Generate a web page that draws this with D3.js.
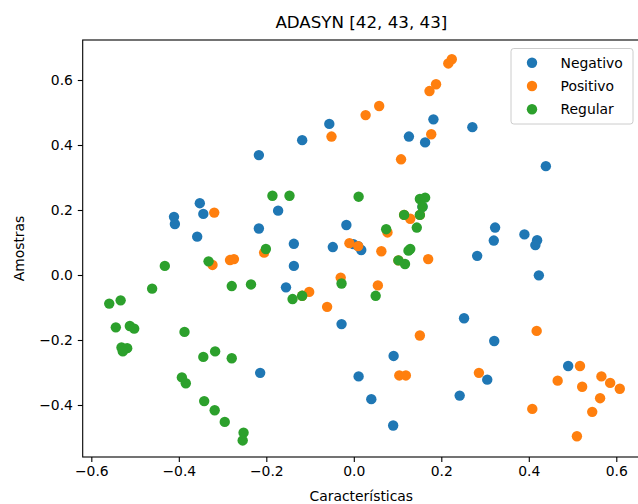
<!DOCTYPE html>
<html>
<head>
<meta charset="utf-8">
<script src="https://cdn.jsdelivr.net/npm/d3@7"></script>
<style>
  body { margin: 0; background: #fff; }
  svg { display: block; }
  text { font-family: "DejaVu Sans", sans-serif; fill: #000; }
</style>
</head>
<body>
<svg id="chart" width="638" height="504"></svg>
<script>
// ADASYN-resampled samples projected onto two components
const seriesNames = ["Negativo", "Positivo", "Regular"];
const seriesColors = ["#1f77b4", "#ff7f0e", "#2ca02c"];

const negativoX = [-0.217, -0.173, -0.352, -0.344, -0.411, -0.409, -0.358, -0.217, -0.214, 0.182,
  0.271, -0.056, -0.118, 0.126, 0.163, -0.017, -0.137, -0.048, -0.001, 0.017,
  -0.137, -0.155, 0.439, 0.323, 0.320, 0.390, 0.419, 0.415, 0.282, 0.423,
  -0.028, 0.252, 0.091, 0.011, 0.242, 0.040, 0.090, 0.321, 0.305, 0.490,
  0.010, 0.157];
const negativoY = [0.369, 0.198, 0.221, 0.188, 0.179, 0.157, 0.118, 0.143, -0.301, 0.479,
  0.455, 0.465, 0.415, 0.426, 0.408, 0.154, 0.096, 0.086, 0.095, 0.077,
  0.028, -0.038, 0.335, 0.146, 0.106, 0.125, 0.107, 0.092, 0.059, -0.001,
  -0.151, -0.133, -0.249, -0.312, -0.371, -0.382, -0.463, -0.203, -0.322, -0.280,
  0.089, 0.210];

const positivoX = [0.224, 0.216, 0.188, 0.173, 0.058, 0.027, -0.051, 0.177, 0.108, -0.319,
  -0.205, -0.283, -0.274, -0.323, 0.129, 0.077, -0.010, 0.010, 0.063, 0.170,
  -0.030, -0.102, 0.055, -0.061, 0.151, 0.104, 0.119, 0.418, 0.286, 0.517,
  0.466, 0.566, 0.586, 0.522, 0.608, 0.563, 0.408, 0.545, 0.510,
  0.115, 0.151, 0.102, -0.118];
const positivoY = [0.664, 0.651, 0.587, 0.566, 0.520, 0.492, 0.426, 0.433, 0.356, 0.192,
  0.069, 0.046, 0.049, 0.031, 0.173, 0.131, 0.098, 0.089, 0.073, 0.049,
  -0.008, -0.052, -0.032, -0.098, -0.186, -0.309, -0.309, -0.172, -0.301, -0.280,
  -0.325, -0.312, -0.332, -0.344, -0.350, -0.379, -0.412, -0.421, -0.496,
  0.185, 0.185, 0.045, -0.064];

const regularX = [-0.186, -0.147, 0.011, -0.201, -0.332, -0.432, -0.279, -0.235, -0.461, -0.559,
  -0.533, -0.544, -0.512, -0.502, -0.387, -0.531, -0.518, -0.528, -0.344, -0.317,
  -0.279, -0.393, -0.384, -0.342, -0.318, -0.295, -0.252, -0.254, 0.151, 0.163,
  0.157, 0.151, 0.115, 0.144, 0.074, 0.129, 0.125, 0.102, 0.117, -0.028,
  -0.118, -0.140, 0.050];
const regularY = [0.244, 0.244, 0.241, 0.080, 0.042, 0.028, -0.034, -0.029, -0.042, -0.088,
  -0.078, -0.161, -0.157, -0.165, -0.175, -0.223, -0.225, -0.235, -0.252, -0.235,
  -0.256, -0.315, -0.333, -0.388, -0.416, -0.452, -0.485, -0.509, 0.234, 0.238,
  0.210, 0.185, 0.185, 0.146, 0.141, 0.080, 0.075, 0.045, 0.034, -0.026,
  -0.064, -0.074, -0.064];

const xTicks = [-0.6, -0.4, -0.2, 0.0, 0.2, 0.4, 0.6];
const yTicks = [-0.4, -0.2, 0.0, 0.2, 0.4, 0.6];

const titleText = "ADASYN [42, 43, 43]";
const xLabel = "Características";
const yLabel = "Amostras";

const series = [
  { name: seriesNames[0], color: seriesColors[0], xs: negativoX, ys: negativoY },
  { name: seriesNames[1], color: seriesColors[1], xs: positivoX, ys: positivoY },
  { name: seriesNames[2], color: seriesColors[2], xs: regularX, ys: regularY }
];

const frame = { left: 82.7, right: 640, top: 40, bottom: 457 };
const fontSize = 13.9;
const markerR = 5.2;

const x = d3.scaleLinear().domain([-0.6197, 0.6542]).range([frame.left, frame.right]);
const y = d3.scaleLinear().domain([-0.56, 0.7231]).range([frame.bottom, frame.top]);

const svg = d3.select("#chart");
svg.append("rect").attr("width", 638).attr("height", 504).attr("fill", "#fff");

const fmt = d3.format(".1f");

// points, drawn series by series
const plot = svg.append("g");
series.forEach(s => {
  plot.append("g").selectAll("circle")
    .data(d3.range(s.xs.length))
    .join("circle")
    .attr("cx", i => x(s.xs[i]))
    .attr("cy", i => y(s.ys[i]))
    .attr("r", markerR)
    .attr("fill", s.color);
});

// axes
const xAxis = svg.append("g")
  .attr("transform", `translate(0,${frame.bottom})`)
  .call(d3.axisBottom(x).tickValues(xTicks).tickFormat(fmt).tickSize(4.9).tickPadding(4.4).tickSizeOuter(0));
const yAxis = svg.append("g")
  .attr("transform", `translate(${frame.left},0)`)
  .call(d3.axisLeft(y).tickValues(yTicks).tickFormat(fmt).tickSize(4.9).tickPadding(4.9).tickSizeOuter(0));

[xAxis, yAxis].forEach(g => {
  g.select(".domain").remove();
  g.selectAll(".tick line").attr("stroke", "#000").attr("stroke-width", 1.1);
  g.selectAll(".tick text")
    .attr("font-family", "DejaVu Sans, sans-serif")
    .attr("font-size", fontSize)
    .attr("fill", "#000");
});

// frame
svg.append("rect")
  .attr("x", frame.left).attr("y", frame.top)
  .attr("width", frame.right - frame.left).attr("height", frame.bottom - frame.top)
  .attr("fill", "none").attr("stroke", "#000").attr("stroke-width", 1.1);

// title and axis labels
svg.append("text")
  .attr("x", (frame.left + frame.right) / 2).attr("y", 28)
  .attr("text-anchor", "middle").attr("font-size", 16.7)
  .text(titleText);
svg.append("text")
  .attr("x", (frame.left + frame.right) / 2).attr("y", 501)
  .attr("text-anchor", "middle").attr("font-size", fontSize)
  .text(xLabel);
svg.append("text")
  .attr("transform", `translate(24,${(frame.top + frame.bottom) / 2}) rotate(-90)`)
  .attr("text-anchor", "middle").attr("font-size", fontSize)
  .text(yLabel);

// legend
const legend = svg.append("g");
legend.append("rect")
  .attr("x", 511).attr("y", 48.5).attr("width", 122).attr("height", 75.5)
  .attr("rx", 2.8).attr("fill", "#fff").attr("fill-opacity", 0.8)
  .attr("stroke", "#cccccc").attr("stroke-width", 1);
const rows = legend.selectAll("g.row").data(series).join("g")
  .attr("class", "row")
  .attr("transform", (d, i) => `translate(0,${62.7 + i * 23.3})`);
rows.append("circle").attr("cx", 532).attr("cy", 0).attr("r", markerR).attr("fill", d => d.color);
rows.append("text").attr("x", 560.5).attr("y", 5).attr("font-size", fontSize).text(d => d.name);
</script>
</body>
</html>
